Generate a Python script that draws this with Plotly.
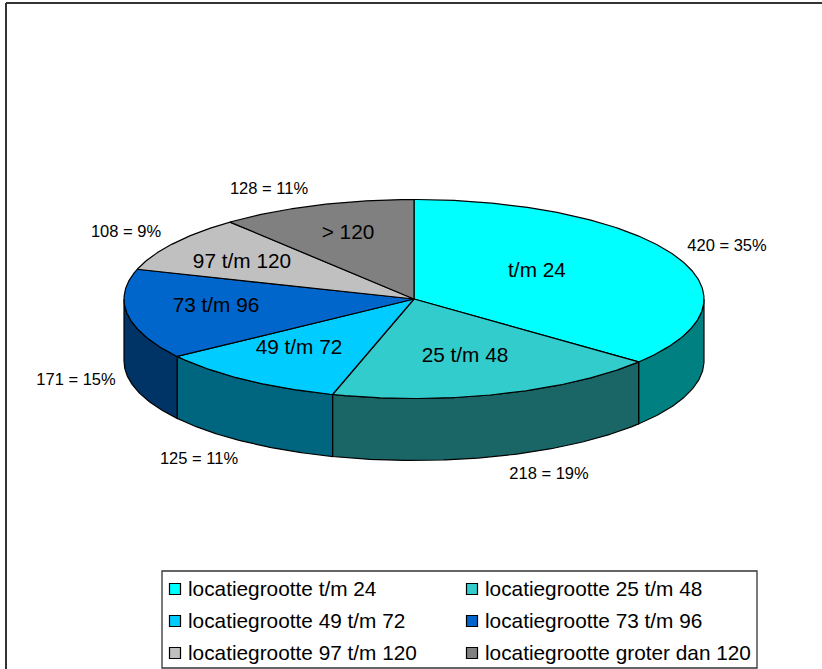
import math
import plotly.graph_objects as go

categories = ["locatiegrootte t/m 24", "locatiegrootte 25 t/m 48", "locatiegrootte 49 t/m 72",
              "locatiegrootte 73 t/m 96", "locatiegrootte 97 t/m 120", "locatiegrootte groter dan 120"]
values = [420, 218, 125, 171, 108, 128]
percent_labels = ["420 = 35%", "218 = 19%", "125 = 11%", "171 = 15%", "108 = 9%", "128 = 11%"]
slice_labels = ["t/m 24", "25 t/m 48", "49 t/m 72", "73 t/m 96", "97 t/m 120", "> 120"]

top_colors = ["#00FFFF", "#33CCCC", "#00CCFF", "#0066CC", "#C0C0C0", "#808080"]
side_colors = ["#008080", "#1A6666", "#006680", "#003366", "#606060", "#404040"]

W, H = 822, 669
CX, CY, RX, RY, DEPTH = 414, 299, 290, 99.5, 62
FONT = "Liberation Sans, Arial"
TEXT_DY = 2
percent_pos = [(727, 245), (549, 473), (199, 458), (76, 379), (126, 231), (269, 188)]
slice_pos = [(537, 270), (465, 355), (299, 347), (216, 305), (242, 261), (348, 232)]
legend_marker_pos = [(175, 589), (472, 589), (175, 621), (472, 621), (175, 653), (472, 653)]
LEGEND_TEXT_DX = 13

total = sum(values)
edges = [0.0]
for v in values:
    edges.append(edges[-1] + v / total * 360)


def rim(a0, a1, dy=0.0):
    n = max(2, int(abs(a1 - a0)) * 2)
    xs, ys = [], []
    for i in range(n + 1):
        t = math.radians(a0 + (a1 - a0) * i / n)
        xs.append(CX + RX * math.sin(t))
        ys.append(CY - RY * math.cos(t) + dy)
    return xs, ys


fig = go.Figure()

# side walls (only the front half of the disc is visible)
for i in range(len(values)):
    a0, a1 = max(edges[i], 90), min(edges[i + 1], 270)
    if a1 <= a0:
        continue
    xt, yt = rim(a0, a1)
    xb, yb = rim(a1, a0, DEPTH)
    fig.add_trace(go.Scatter(x=xt + xb + [xt[0]], y=yt + yb + [yt[0]], mode="lines", fill="toself",
                             fillcolor=side_colors[i], line=dict(color="black", width=1.2),
                             showlegend=False, hoverinfo="skip"))

# top faces
for i in range(len(values)):
    xt, yt = rim(edges[i], edges[i + 1])
    fig.add_trace(go.Scatter(x=[CX] + xt + [CX], y=[CY] + yt + [CY], mode="lines", fill="toself",
                             fillcolor=top_colors[i], line=dict(color="black", width=1.2),
                             showlegend=False, name=categories[i], hoverinfo="name"))

# text labels
fig.add_trace(go.Scatter(x=[p[0] for p in slice_pos], y=[p[1] + TEXT_DY for p in slice_pos], text=slice_labels,
                         mode="text", textposition="middle center", showlegend=False, hoverinfo="skip",
                         textfont=dict(family=FONT, size=20.8, color="black")))
fig.add_trace(go.Scatter(x=[p[0] for p in percent_pos], y=[p[1] + TEXT_DY for p in percent_pos], text=percent_labels,
                         mode="text", textposition="middle center", showlegend=False, hoverinfo="skip",
                         textfont=dict(family=FONT, size=16.5, color="black")))

# legend block: swatches and their labels
fig.add_trace(go.Scatter(x=[p[0] for p in legend_marker_pos], y=[p[1] for p in legend_marker_pos],
                         mode="markers", showlegend=False, hoverinfo="skip",
                         marker=dict(symbol="square", size=11, color=top_colors,
                                     line=dict(color="black", width=1.2))))
fig.add_trace(go.Scatter(x=[p[0] + LEGEND_TEXT_DX for p in legend_marker_pos],
                         y=[p[1] + TEXT_DY for p in legend_marker_pos],
                         text=categories, mode="text", textposition="middle right",
                         showlegend=False, hoverinfo="skip",
                         textfont=dict(family=FONT, size=20.8, color="black")))

frame = dict(color="#333333", width=2)
fig.update_layout(
    width=W, height=H, margin=dict(l=0, r=0, t=0, b=0),
    paper_bgcolor="white", plot_bgcolor="white",
    xaxis=dict(range=[0, W], visible=False, fixedrange=True),
    yaxis=dict(range=[H, 0], visible=False, fixedrange=True),
    showlegend=False,
    shapes=[
        dict(type="line", x0=6, x1=W, y0=3, y1=3, line=frame),
        dict(type="line", x0=6, x1=6, y0=3, y1=H, line=frame),
        dict(type="rect", x0=162, x1=757, y0=571, y1=668, line=dict(color="#333333", width=1.3)),
    ],
)
fig.write_html("out.html", config=dict(displayModeBar=False),
               post_script="document.body.style.margin='0';")
